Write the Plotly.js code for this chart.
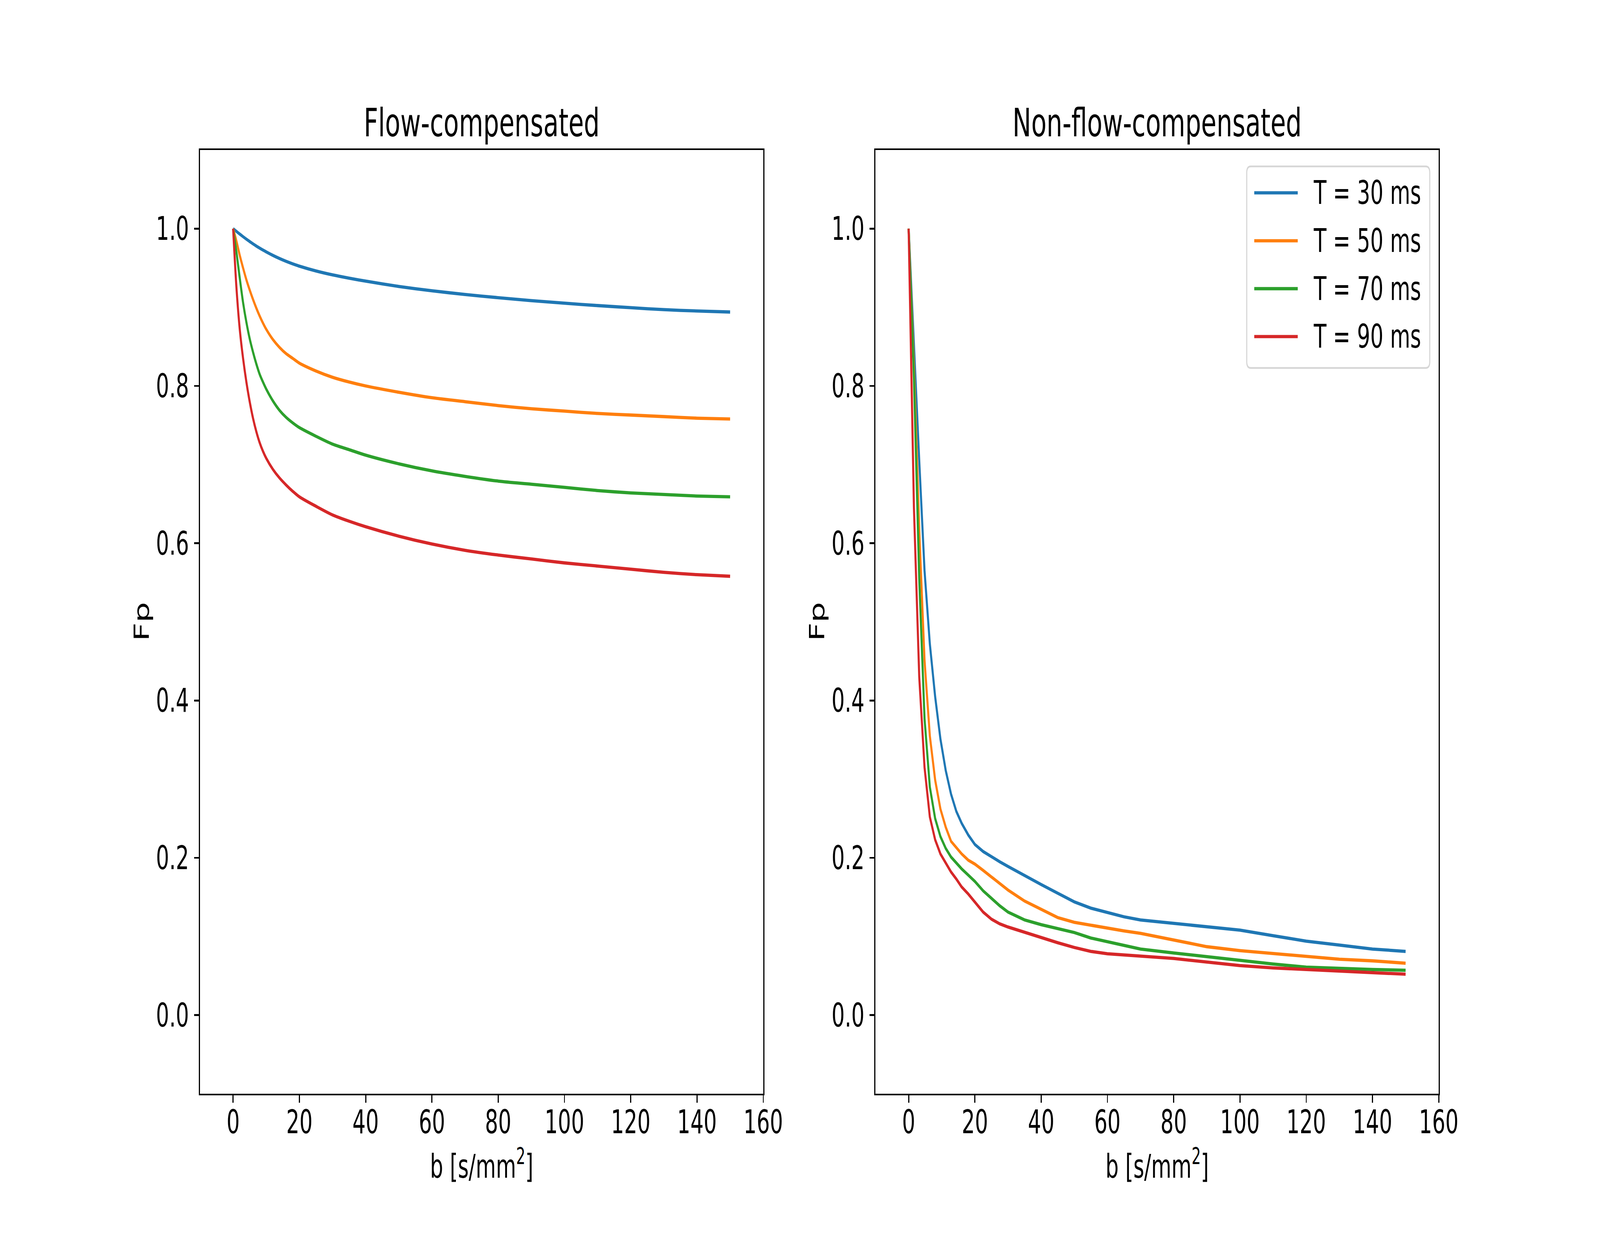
<!DOCTYPE html>
<html>
<head>
<meta charset="utf-8">
<script src="https://cdn.plot.ly/plotly-3.0.1.min.js"></script>
<style>html,body{margin:0;padding:0;background:#fff;overflow:hidden;}
#chart{position:absolute;left:0;top:0;width:6400px;height:3200px;transform-origin:0 0;}</style>
</head>
<body>
<div id="chart"></div>
<script>
// ---------------- data ----------------
const seriesNames = ["T = 30 ms", "T = 50 ms", "T = 70 ms", "T = 90 ms"];
const panelTitles = ["Flow-compensated", "Non-flow-compensated"];
const xTickVals = [0, 20, 40, 60, 80, 100, 120, 140, 160];
const yTickVals = [0.0, 0.2, 0.4, 0.6, 0.8, 1.0];

// Flow-compensated panel
const b_fc = [0,1,2,3,4,5,6,7,8,9,10,12,14,16,18,20,25,30,35,40,50,60,70,80,90,100,110,120,130,140,150];
const fc_T30 = [1.0000,0.9965,0.9931,0.9898,0.9866,0.9836,0.9807,0.9779,0.9753,0.9728,0.9704,0.9660,0.9620,0.9584,0.9552,0.9523,0.9462,0.9412,0.9370,0.9333,0.9265,0.9210,0.9163,0.9122,0.9085,0.9052,0.9022,0.8995,0.8970,0.8953,0.8940];
const fc_T50 = [1.000,0.984,0.966,0.950,0.935,0.922,0.910,0.899,0.889,0.880,0.872,0.859,0.849,0.841,0.835,0.829,0.819,0.811,0.805,0.800,0.792,0.785,0.780,0.775,0.771,0.768,0.765,0.763,0.761,0.759,0.758];
const fc_T70 = [1.000,0.970,0.937,0.906,0.881,0.860,0.843,0.828,0.815,0.805,0.796,0.781,0.769,0.760,0.753,0.747,0.736,0.726,0.719,0.712,0.701,0.692,0.685,0.679,0.675,0.671,0.667,0.664,0.662,0.660,0.659];
const fc_T90 = [1.000,0.925,0.872,0.835,0.805,0.780,0.759,0.742,0.728,0.717,0.708,0.694,0.683,0.674,0.666,0.659,0.647,0.636,0.628,0.621,0.609,0.599,0.591,0.585,0.580,0.575,0.571,0.567,0.563,0.560,0.558];

// Non-flow-compensated panel
const b_nfc = [0,1.6,3.2,4.8,6.4,8.0,9.6,11.2,12.8,14.4,16,18,20,22.5,25,27.5,30,35,40,45,50,55,60,65,70,80,90,100,110,120,130,140,150];
const nfc_T30 = [1.000,0.850,0.705,0.565,0.472,0.405,0.351,0.311,0.281,0.259,0.244,0.229,0.217,0.208,0.201,0.195,0.189,0.177,0.166,0.155,0.144,0.136,0.130,0.125,0.121,0.117,0.113,0.108,0.101,0.094,0.089,0.084,0.081];
const nfc_T50 = [1.000,0.825,0.617,0.451,0.355,0.299,0.262,0.239,0.221,0.213,0.205,0.197,0.192,0.184,0.176,0.168,0.159,0.145,0.134,0.124,0.118,0.114,0.111,0.107,0.104,0.095,0.087,0.082,0.078,0.075,0.071,0.069,0.066];
const nfc_T70 = [1.000,0.810,0.555,0.377,0.290,0.250,0.227,0.212,0.201,0.193,0.186,0.178,0.170,0.158,0.148,0.139,0.131,0.121,0.115,0.110,0.105,0.098,0.093,0.088,0.084,0.079,0.074,0.070,0.065,0.061,0.059,0.058,0.057];
const nfc_T90 = [1.000,0.645,0.430,0.315,0.252,0.223,0.205,0.193,0.182,0.173,0.163,0.154,0.144,0.131,0.122,0.116,0.112,0.105,0.099,0.092,0.086,0.081,0.078,0.076,0.075,0.072,0.067,0.063,0.060,0.058,0.056,0.054,0.052];

// ---------------- styling ----------------
const colors = ["#1f77b4", "#ff7f0e", "#2ca02c", "#d62728"];
const W = 6400, H = 3200;
const FONT = "DejaVu Sans";
const tickSize = 83, titleSize = 100;
const lineW = 8.3, axW = 4.4;

const div = document.getElementById("chart");

const fcSeries = [fc_T30, fc_T50, fc_T70, fc_T90];
const nfcSeries = [nfc_T30, nfc_T50, nfc_T70, nfc_T90];

const traces = [];
fcSeries.forEach((ys, i) => traces.push({
  x: b_fc, y: ys, name: seriesNames[i], type: "scatter", mode: "lines",
  xaxis: "x", yaxis: "y", showlegend: false,
  line: {color: colors[i], width: lineW, shape: "spline", smoothing: 0.8}
}));
nfcSeries.forEach((ys, i) => traces.push({
  x: b_nfc, y: ys, name: seriesNames[i], type: "scatter", mode: "lines",
  xaxis: "x2", yaxis: "y2", showlegend: false,
  line: {color: colors[i], width: lineW}
}));

const xDom1 = [800 / W, 3053 / W];
const xDom2 = [3502 / W, 5755 / W];
const yDom = [1 - 2800 / H, 1 - 384 / H];

function xAxis(dom, anchor) {
  return {
    domain: dom, anchor: anchor, range: [-10, 160],
    tickmode: "array", tickvals: xTickVals,
    ticks: "outside", ticklen: 19, tickwidth: axW, tickcolor: "#000",
    showline: true, linecolor: "#000", linewidth: axW, mirror: true,
    showgrid: false, zeroline: false,
    tickfont: {family: FONT, size: tickSize, color: "#000"},
    ticklabelstandoff: -22
  };
}
function yAxis(dom, anchor) {
  return {
    domain: dom, anchor: anchor, range: [-0.1, 1.1],
    tickmode: "array", tickvals: yTickVals, tickformat: ".1f",
    ticks: "outside", ticklen: 19, tickwidth: axW, tickcolor: "#000",
    showline: true, linecolor: "#000", linewidth: axW, mirror: true,
    showgrid: false, zeroline: false,
    tickfont: {family: FONT, size: tickSize, color: "#000"},
    ticklabelstandoff: 4
  };
}

const annotations = [];
const shapes = [];
[xDom1, xDom2].forEach((dom, k) => {
  const cx = (dom[0] + dom[1]) / 2;
  annotations.push({
    text: panelTitles[k], xref: "paper", yref: "paper", x: cx, y: 1 - 375 / H,
    xanchor: "center", yanchor: "bottom", showarrow: false,
    font: {family: FONT, size: titleSize, color: "#000"}
  });
  annotations.push({
    text: "b [s/mm<sup>2</sup>]", xref: "paper", yref: "paper", x: cx, y: 1 - 3037 / H,
    xanchor: "center", yanchor: "bottom", showarrow: false,
    font: {family: FONT, size: tickSize, color: "#000"}
  });
  annotations.push({
    text: "Fp", xref: "paper", yref: "paper", x: dom[0] - 183 / W, y: (yDom[0] + yDom[1]) / 2,
    xanchor: "right", yanchor: "middle", textangle: -90, showarrow: false,
    font: {family: FONT, size: tickSize, color: "#000"}
  });
});

// legend (upper right of the right panel)
const L = 4987 / W, R = 5719 / W, T = 1 - 426 / H, B = 1 - 942 / H;
const rx = 16 / W, ry = 16 / H;
shapes.push({
  type: "path", xref: "paper", yref: "paper",
  path: `M ${L + rx},${T} L ${R - rx},${T} Q ${R},${T} ${R},${T - ry} L ${R},${B + ry} Q ${R},${B} ${R - rx},${B} L ${L + rx},${B} Q ${L},${B} ${L},${B + ry} L ${L},${T - ry} Q ${L},${T} ${L + rx},${T} Z`,
  line: {color: "#d6d6d6", width: axW}, fillcolor: "rgba(255,255,255,0.8)", layer: "above"
});
seriesNames.forEach((nm, i) => {
  const yPix = 493.6 + i * 122.7;
  shapes.push({
    type: "line", xref: "paper", yref: "paper",
    x0: 5017 / W, x1: 5191 / W, y0: 1 - yPix / H, y1: 1 - yPix / H,
    line: {color: colors[i], width: lineW}, layer: "above"
  });
  annotations.push({
    text: nm, xref: "paper", yref: "paper", x: 5252 / W, y: 1 - yPix / H,
    xanchor: "left", yanchor: "middle", showarrow: false,
    font: {family: FONT, size: tickSize, color: "#000"}
  });
});

const layout = {
  width: W, height: H,
  margin: {l: 0, r: 0, t: 0, b: 0, pad: 0},
  paper_bgcolor: "#fff", plot_bgcolor: "#fff",
  font: {family: FONT, size: tickSize, color: "#000"},
  showlegend: false,
  xaxis: xAxis(xDom1, "y"), yaxis: yAxis(yDom, "x"),
  xaxis2: xAxis(xDom2, "y2"), yaxis2: yAxis(yDom, "x2"),
  annotations: annotations, shapes: shapes
};

Plotly.newPlot(div, traces, layout, {staticPlot: true, displayModeBar: false}).then(() => {
  // fit the 6400x3200 figure into the actual viewport
  const sx = (window.innerWidth || W) / W;
  const sy = (window.innerHeight || H) / H;
  div.style.transform = `scale(${sx}, ${sy})`;
});
</script>
</body>
</html>
